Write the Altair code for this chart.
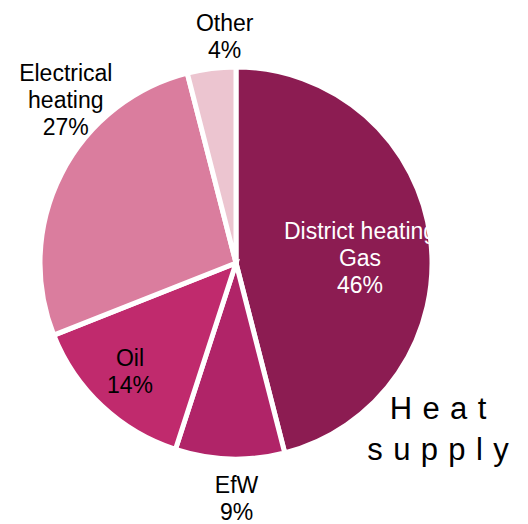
import altair as alt
import pandas as pd

# ---- data ----
categories = ["District heating Gas", "EfW", "Oil", "Electrical heating", "Other"]
label_lines = [["District heating", "Gas"], ["EfW"], ["Oil"], ["Electrical", "heating"], ["Other"]]
shares = [46, 9, 14, 27, 4]
colors = ["#8C1C52", "#B02468", "#C02A6D", "#DA7D9E", "#ECC5D0"]
title_lines = ["H\u2004e\u2004a\u2004t", "s\u2004u\u2004p\u2004p\u2004l\u2004y"]

labels = ["\n".join(lines + [f"{s}%"]) for lines, s in zip(label_lines, shares)]
df = pd.DataFrame({"category": categories, "share": shares,
                   "order": list(range(len(categories))), "label": labels})

# ---- layout / style ----
W, H = 512, 516
CX, CY = 228, 255
R = 196
FONT = "Liberation Sans"
# per label: radius, dx, dy, colour
label_style = {
    "District heating Gas": (125, 0, -15, "white"),
    "EfW": (236, 8, -13, "black"),
    "Oil": (152, -2, -15, "black"),
    "Electrical heating": (200, 8, -98, "black"),
    "Other": (226, 17, -15, "black"),
}

base = alt.Chart(df)

arc = base.mark_arc(radius=R, stroke="white", strokeWidth=5).encode(
    theta=alt.Theta("share:Q", stack=True),
    color=alt.Color("category:N", scale=alt.Scale(domain=categories, range=colors), legend=None),
    order=alt.Order("order:Q"),
    x=alt.value(CX),
    y=alt.value(CY),
)

layers = [arc]
for cat, (r, dx, dy, col) in label_style.items():
    t = (
        base.transform_window(cum="sum(share)", sort=[alt.SortField("order")], frame=[None, 0])
        .transform_joinaggregate(total="sum(share)")
        .transform_calculate(ang="(datum.cum - datum.share / 2) / datum.total * 2 * PI")
        .transform_filter(alt.datum.category == cat)
        .mark_text(radius=r, dx=dx, dy=dy, fontSize=23, font=FONT, color=col,
                   lineBreak="\n", lineHeight=27, align="center", baseline="middle")
        .encode(theta=alt.Theta("ang:Q", scale=None), text="label:N",
                x=alt.value(CX), y=alt.value(CY))
    )
    layers.append(t)

title = alt.Chart(pd.DataFrame({"t": [0]})).mark_text(
    text=title_lines, fontSize=31, font=FONT, color="black", align="center",
    baseline="alphabetic", lineHeight=41
).encode(x=alt.value(430), y=alt.value(411))
layers.append(title)

chart = alt.layer(*layers).properties(
    width=W, height=H, autosize=alt.AutoSizeParams(type="none"), padding=0
).configure_view(stroke=None)

chart.save("out.html", embed_options={"renderer": "svg", "actions": False})
